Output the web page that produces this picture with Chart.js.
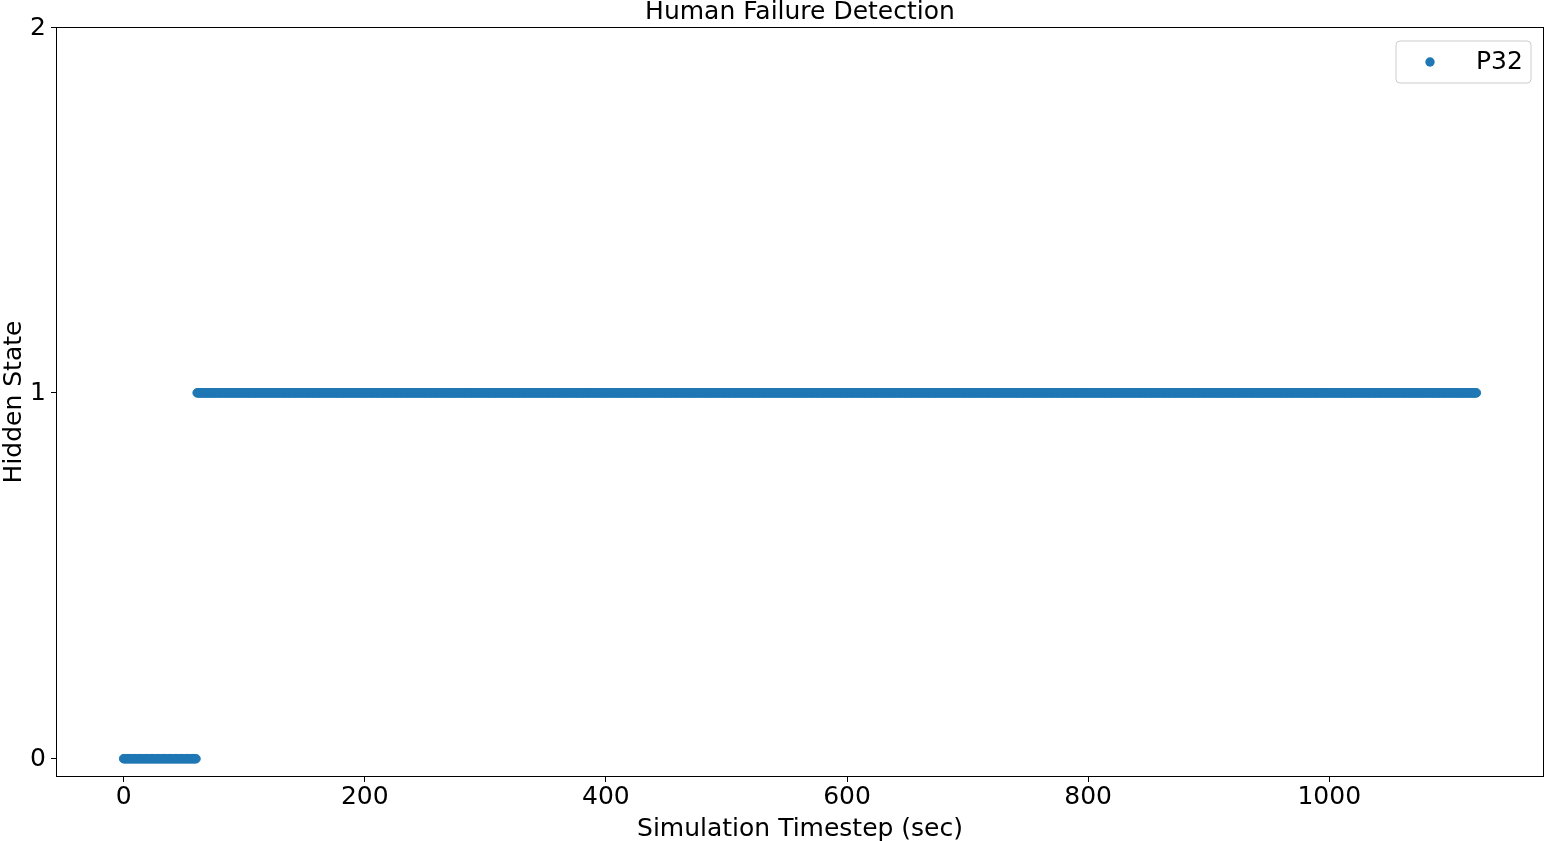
<!DOCTYPE html>
<html>
<head>
<meta charset="utf-8">
<script src="https://cdn.jsdelivr.net/npm/chart.js@4.4.1/dist/chart.umd.min.js"></script>
<style>
  html, body { margin: 0; padding: 0; background: #ffffff; overflow: hidden; }
  #wrap { width: 1546px; height: 841px; position: relative; overflow: hidden; }
  #c { display: block; width: 1546px; height: 841px; }
</style>
</head>
<body>
<div id="wrap"><canvas id="c" width="1546" height="841"></canvas></div>
<script>
// ---- Data (hidden state per simulation second) ----
const seriesLabel = "P32";
const runStartSec = [0, 61];      // first timestep of each constant-state run
const runEndSec   = [60, 1122];   // last timestep of each run
const runState    = [0, 1];       // hidden state during each run
const sampleStepSec = 1;          // one sample per simulation second

const xTicks = [0, 200, 400, 600, 800, 1000];
const yTicks = [0, 1, 2];

const titleText = "Human Failure Detection";
const xLabelText = "Simulation Timestep (sec)";
const yLabelText = "Hidden State";

// Expand the runs into individual samples (one point per timestep)
const points = [];
for (let r = 0; r < runState.length; r++) {
  for (let t = runStartSec[r]; t <= runEndSec[r]; t += sampleStepSec) {
    points.push({ x: t, y: runState[r] });
  }
}

const FONT = "'DejaVu Sans', sans-serif";
const BLUE = "#1f77b4";

const xMinData = runStartSec[0], xMaxData = runEndSec[runEndSec.length - 1];
const xPad = (xMaxData - xMinData) * 0.05;

const decorPlugin = {
  id: 'decor',
  afterDatasetsDraw(chart) {
    const { ctx, chartArea: a } = chart;
    ctx.save();
    // frame (all four spines)
    ctx.strokeStyle = '#000';
    ctx.lineWidth = 1;
    ctx.strokeRect(Math.round(a.left) + 0.5, Math.round(a.top) + 0.5,
                   Math.round(a.right - a.left) - 1, Math.round(a.bottom - a.top) - 1);
    // title
    ctx.fillStyle = '#000';
    ctx.font = "25px " + FONT;
    ctx.textAlign = 'center';
    ctx.textBaseline = 'alphabetic';
    const cx = (a.left + a.right) / 2;
    ctx.fillText(titleText, cx, 19);
    // x label
    ctx.fillText(xLabelText, cx, 836);
    // y label
    ctx.save();
    ctx.translate(21, (a.top + a.bottom) / 2);
    ctx.rotate(-Math.PI / 2);
    ctx.fillText(yLabelText, 0, 0);
    ctx.restore();
    // legend
    const lx = 1396, ly = 41, lw = 135, lh = 42, rr = 4;
    ctx.beginPath();
    ctx.moveTo(lx + rr, ly);
    ctx.lineTo(lx + lw - rr, ly);
    ctx.quadraticCurveTo(lx + lw, ly, lx + lw, ly + rr);
    ctx.lineTo(lx + lw, ly + lh - rr);
    ctx.quadraticCurveTo(lx + lw, ly + lh, lx + lw - rr, ly + lh);
    ctx.lineTo(lx + rr, ly + lh);
    ctx.quadraticCurveTo(lx, ly + lh, lx, ly + lh - rr);
    ctx.lineTo(lx, ly + rr);
    ctx.quadraticCurveTo(lx, ly, lx + rr, ly);
    ctx.closePath();
    ctx.fillStyle = 'rgba(255,255,255,0.8)';
    ctx.fill();
    ctx.strokeStyle = '#cccccc';
    ctx.lineWidth = 1;
    ctx.stroke();
    ctx.beginPath();
    ctx.arc(1430, 62, 4.7, 0, Math.PI * 2);
    ctx.fillStyle = BLUE;
    ctx.fill();
    ctx.fillStyle = '#000';
    ctx.textAlign = 'left';
    ctx.fillText(chart.data.datasets[0].label, 1476, 69);
    ctx.restore();
  }
};

new Chart(document.getElementById('c'), {
  type: 'scatter',
  data: {
    datasets: [{
      label: seriesLabel,
      data: points,
      backgroundColor: BLUE,
      borderColor: BLUE,
      borderWidth: 1,
      pointRadius: 4.3,
      pointHoverRadius: 4.3
    }]
  },
  options: {
    responsive: false,
    animation: false,
    devicePixelRatio: 1,
    events: [],
    layout: { autoPadding: false, padding: { top: 27, right: 2, left: 0, bottom: 0 } },
    plugins: {
      legend: { display: false },
      title: { display: false },
      tooltip: { enabled: false }
    },
    scales: {
      x: {
        type: 'linear',
        min: xMinData - xPad,
        max: xMaxData + xPad,
        afterBuildTicks(scale) { scale.ticks = xTicks.map(v => ({ value: v })); },
        afterFit(scale) { scale.height = 64; scale.paddingLeft = 0; scale.paddingRight = 0; },
        grid: { display: true, drawOnChartArea: false, drawTicks: true, tickLength: 5, color: '#000', lineWidth: 1 },
        border: { display: false },
        ticks: {
          color: '#000',
          font: { family: FONT, size: 25 },
          padding: 0,
          maxRotation: 0,
          autoSkip: false,
          callback: v => String(v)
        }
      },
      y: {
        type: 'linear',
        min: -0.05,
        max: 2,
        afterBuildTicks(scale) { scale.ticks = yTicks.map(v => ({ value: v })); },
        afterFit(scale) { scale.width = 56; scale.paddingTop = 0; scale.paddingBottom = 0; },
        grid: { display: true, drawOnChartArea: false, drawTicks: true, tickLength: 5, color: '#000', lineWidth: 1 },
        border: { display: false },
        ticks: {
          color: '#000',
          font: { family: FONT, size: 25 },
          padding: 5,
          labelOffset: 1,
          autoSkip: false,
          callback: v => String(v)
        }
      }
    }
  },
  plugins: [decorPlugin]
});
</script>
</body>
</html>
